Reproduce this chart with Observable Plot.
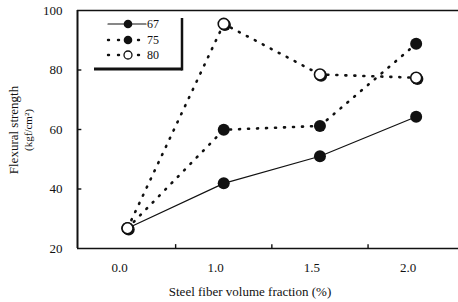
<!DOCTYPE html>
<html>
<head>
<meta charset="utf-8">
<script src="https://cdn.jsdelivr.net/npm/d3@7"></script>
<script src="https://cdn.jsdelivr.net/npm/@observablehq/plot@0.6"></script>
<style>
  html, body { margin: 0; padding: 0; background: #fff; }
  #chart { width: 458px; height: 302px; }
</style>
</head>
<body>
<div id="chart"></div>
<script>
// Data
const fractions = ["0.0", "1.0", "1.5", "2.0"];
const series67 = [26.8, 41.9, 51.0, 64.3];
const series75 = [26.8, 59.9, 61.2, 88.8];
const series80 = [26.8, 95.5, 78.5, 77.4];
const seriesNames = ["67", "75", "80"];
const yTicks = [20, 40, 60, 80, 100];

const allSeries = [series67, series75, series80];
const rows = [];
allSeries.forEach((vals, s) => vals.forEach((v, i) => rows.push({series: seriesNames[s], i, v})));

const xMin = -0.52, xMax = 3.44;
const serif = "'Liberation Serif', 'Times New Roman', serif";
const ink = "#111";

const lineStyles = {
  "67": {strokeWidth: 1.2, strokeDasharray: null},
  "75": {strokeWidth: 2.6, strokeDasharray: "1,8"},
  "80": {strokeWidth: 2.6, strokeDasharray: "1,8"}
};

const marks = [
  // frame: top, bottom, left
  Plot.ruleY([100, 20], {x1: xMin, x2: xMax, stroke: ink, strokeWidth: 1.6}),
  Plot.ruleX([xMin], {y1: 20, y2: 100, stroke: ink, strokeWidth: 2}),
  // inward tick marks
  Plot.ruleY([40, 60, 80], {x1: xMin, x2: xMin + 0.045, stroke: ink, strokeWidth: 1.4}),
  Plot.ruleX([0.5, 1.5, 2.5], {y1: 20, y2: 21.3, stroke: ink, strokeWidth: 1.4}),
  Plot.axisY(yTicks, {tickSize: 0, tickPadding: 15, fontSize: 13, fontFamily: serif, label: null, fill: ink}),
  Plot.axisX([0, 1, 2, 3], {tickSize: 0, tickPadding: 14, fontSize: 13, fontFamily: serif, label: null, dx: -8,
    tickFormat: i => fractions[i], fill: ink})
];

for (const name of seriesNames) {
  const st = lineStyles[name];
  marks.push(Plot.line(rows.filter(d => d.series === name), {
    x: "i", y: "v", stroke: ink, strokeWidth: st.strokeWidth,
    strokeDasharray: st.strokeDasharray, strokeLinecap: "round"
  }));
}
for (const name of seriesNames) {
  const data = rows.filter(d => d.series === name);
  if (name === "80") {
    marks.push(Plot.dot(data, {x: "i", y: "v", r: 6, fill: ink, dx: 1.2, dy: 1.2}));
    marks.push(Plot.dot(data, {x: "i", y: "v", r: 5.5, fill: "#fff", stroke: ink, strokeWidth: 1.6}));
  } else {
    marks.push(Plot.dot(data, {x: "i", y: "v", r: 6, fill: ink}));
  }
}

const chart = Plot.plot({
  width: 458,
  height: 302,
  marginLeft: 77,
  marginRight: 0,
  marginTop: 10,
  marginBottom: 54,
  x: {type: "linear", domain: [xMin, xMax], axis: null},
  y: {domain: [20, 100], axis: null},
  style: {fontFamily: serif, color: ink, background: "#fff", overflow: "visible"},
  marks
});

const svg = d3.select(chart);
// axis titles
svg.append("text")
  .attr("transform", "translate(18,130) rotate(-90)")
  .attr("text-anchor", "middle")
  .attr("font-family", serif).attr("font-size", 13).attr("fill", ink)
  .text("Flexural strength");
svg.append("text")
  .attr("transform", "translate(32,130) rotate(-90)")
  .attr("text-anchor", "middle")
  .attr("font-family", serif).attr("font-size", 11).attr("fill", ink)
  .text("(kgf/cm²)");
svg.append("text")
  .attr("x", 250).attr("y", 296)
  .attr("text-anchor", "middle")
  .attr("font-family", serif).attr("font-size", 13).attr("fill", ink)
  .text("Steel fiber volume fraction (%)");

// legend
const lg = svg.append("g");
lg.append("line").attr("x1", 94).attr("x2", 182).attr("y1", 69).attr("y2", 69).attr("stroke", ink).attr("stroke-width", 3);
lg.append("line").attr("x1", 182).attr("x2", 182).attr("y1", 18).attr("y2", 70.5).attr("stroke", ink).attr("stroke-width", 2.5);
const legendY = [24, 40, 55];
seriesNames.forEach((name, k) => {
  const st = lineStyles[name];
  const y = legendY[k];
  const l = lg.append("line").attr("x1", 108).attr("x2", 146).attr("y1", y).attr("y2", y)
    .attr("stroke", ink).attr("stroke-width", name === "67" ? 1.2 : 2.4).attr("stroke-linecap", "round");
  if (st.strokeDasharray) l.attr("stroke-dasharray", "1,9");
  if (name === "80") {
    lg.append("circle").attr("cx", 128).attr("cy", y).attr("r", 4).attr("fill", "#fff").attr("stroke", ink).attr("stroke-width", 1.3);
  } else {
    lg.append("circle").attr("cx", 128).attr("cy", y).attr("r", 4.3).attr("fill", ink);
  }
  lg.append("text").attr("x", 153).attr("y", y + 4).attr("font-family", serif).attr("font-size", 12).attr("fill", ink).text(name);
});

document.getElementById("chart").appendChild(chart);
</script>
</body>
</html>
